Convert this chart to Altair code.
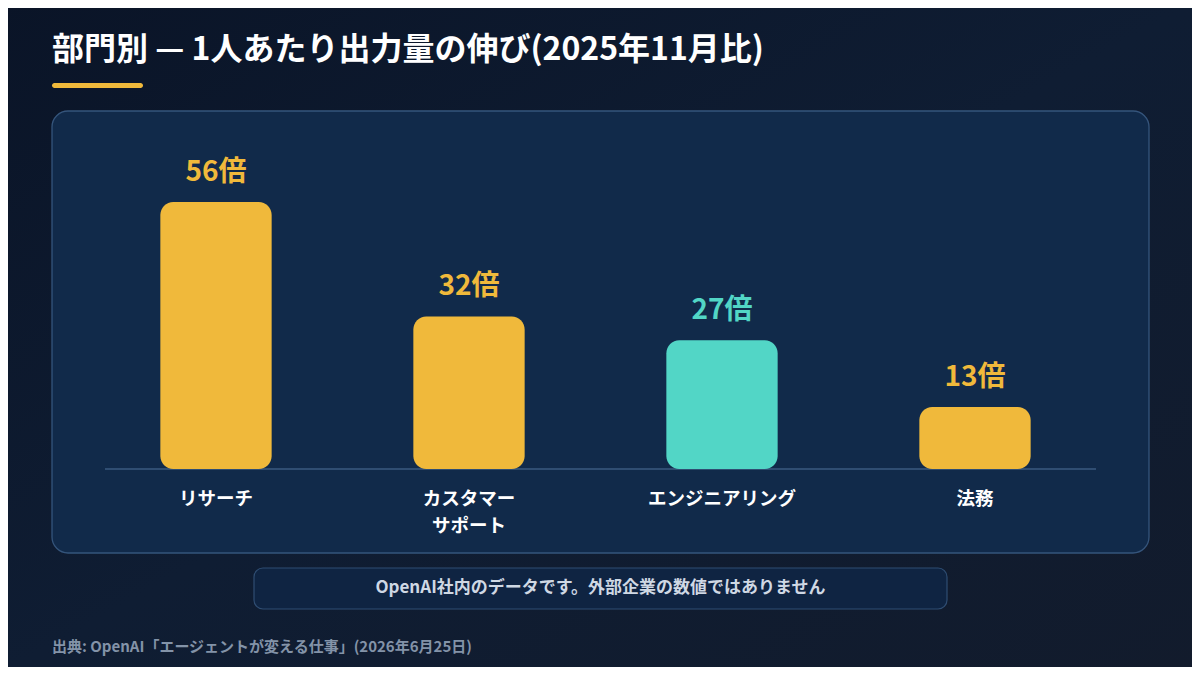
import altair as alt
import pandas as pd

# ---- data ----
departments = ["リサーチ", "カスタマー\nサポート", "エンジニアリング", "法務"]
dept_keys = ["research", "support", "engineering", "legal"]
multipliers = [56, 32, 27, 13]
value_labels = ["56倍", "32倍", "27倍", "13倍"]
bar_colors = ["#F0B93B", "#F0B93B", "#52D6C6", "#F0B93B"]

title_text = "部門別 — 1人あたり出力量の伸び(2025年11月比)"
note_text = "OpenAI社内のデータです。外部企業の数値ではありません"
source_text = "出典: OpenAI「エージェントが変える仕事」(2026年6月25日)"

W, H = 1184, 659
FONT = "Noto Sans CJK JP"

df = pd.DataFrame({
    "key": dept_keys,
    "dept": departments,
    "value": multipliers,
    "label": value_labels,
    "color": bar_colors,
})

one = pd.DataFrame({"a": [0]})

x_scale = alt.Scale(domain=dept_keys, range=[81.5, 1093.5],
                    paddingInner=0.56, paddingOuter=0.28)
y_scale = alt.Scale(domain=[0, 56], range=[461, 194], nice=False, zero=True)

# background gradient
bg = alt.Chart(one).mark_rect(
    color=alt.Gradient(
        gradient="linear", x1=0, y1=0, x2=1, y2=1,
        stops=[alt.GradientStop(color="#0a1427", offset=0),
               alt.GradientStop(color="#0f1d33", offset=0.5),
               alt.GradientStop(color="#121b2c", offset=1)],
    )
).encode(x=alt.value(-8), x2=alt.value(W + 8), y=alt.value(-8), y2=alt.value(H + 8))

title = alt.Chart(one).mark_text(
    text=title_text, font=FONT, fontSize=32, fontWeight="bold",
    color="#ffffff", align="left", baseline="middle"
).encode(x=alt.value(44), y=alt.value(42))

underline = alt.Chart(one).mark_rect(
    color="#F0B93B", cornerRadius=3
).encode(x=alt.value(44), x2=alt.value(135), y=alt.value(75), y2=alt.value(80))

panel = alt.Chart(one).mark_rect(
    fill="#112a4a", stroke="#35557c", strokeWidth=1.3, cornerRadius=16
).encode(x=alt.value(44), x2=alt.value(1141), y=alt.value(103), y2=alt.value(545))

baseline = alt.Chart(one).mark_rule(
    color="#3a5a80", strokeWidth=1.5
).encode(x=alt.value(97), x2=alt.value(1088), y=alt.value(461))

bars = alt.Chart(df).mark_bar(cornerRadius=13).encode(
    x=alt.X("key:N", scale=x_scale, axis=None),
    y=alt.Y("value:Q", scale=y_scale, axis=None),
    y2=alt.datum(0),
    color=alt.Color("color:N", scale=None, legend=None),
)

vlabels = alt.Chart(df).mark_text(
    font=FONT, fontSize=28, fontWeight="bold", baseline="middle", dy=-29
).encode(
    x=alt.X("key:N", scale=x_scale, axis=None),
    y=alt.Y("value:Q", scale=y_scale, axis=None),
    text="label:N",
    color=alt.Color("color:N", scale=None, legend=None),
)

xlabels = alt.Chart(df).mark_text(
    font=FONT, fontSize=18.5, fontWeight="bold", color="#ffffff",
    baseline="top", lineBreak="\n", lineHeight=27
).encode(
    x=alt.X("key:N", scale=x_scale, axis=None),
    y=alt.value(481.5),
    text="dept:N",
)

notebox = alt.Chart(one).mark_rect(
    fill="#0f2442", stroke="#2f4d72", strokeWidth=1.2, cornerRadius=9
).encode(x=alt.value(246), x2=alt.value(939), y=alt.value(560), y2=alt.value(601))

note = alt.Chart(one).mark_text(
    text=note_text, font=FONT, fontSize=17, fontWeight="bold",
    color="#cfd8e4", align="center", baseline="middle"
).encode(x=alt.value(592.5), y=alt.value(580))

source = alt.Chart(one).mark_text(
    text=source_text, font=FONT, fontSize=15, fontWeight="bold",
    color="#8393a8", align="left", baseline="middle"
).encode(x=alt.value(44), y=alt.value(639))

chart = alt.layer(
    bg, title, underline, panel, baseline, bars, vlabels, xlabels, notebox, note, source
).properties(
    width=W, height=H,
    autosize=alt.AutoSizeParams(type="none"),
    padding=0,
    background="#0c1729",
).configure_view(stroke=None)

chart.save("out.html", embed_options={"renderer": "svg", "actions": False})
